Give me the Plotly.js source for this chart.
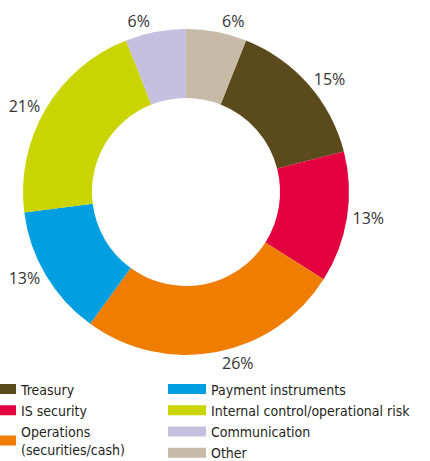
<!DOCTYPE html>
<html><head><meta charset="utf-8">
<script src="https://cdn.plot.ly/plotly-3.0.1.min.js"></script>
<style>html,body{margin:0;padding:0;background:#fff}#chart{width:430px;height:461px}</style>
</head><body><div id="chart"></div>
<script>
// Data (clockwise order, starting after "Other")
const categories = ["Treasury", "IS security", "Operations<br>(securities/cash)", "Payment instruments", "Internal control/operational risk", "Communication", "Other"];
const shares = [15, 13, 26, 13, 21, 6, 6];
const legendColumn = ["legend", "legend", "legend", "legend2", "legend2", "legend2", "legend2"];

// Palette
const palette = ["#5b4a1c", "#e3003f", "#ef7d00", "#009fe2", "#c9d400", "#c5c0df", "#c7bba7"];

const W = 430, H = 461;
const labelFont = {family: "Open Sans, Noto Sans, sans-serif", size: 16, color: "#333333"};
const legendFont = {family: "DejaVu Sans Condensed, Liberation Sans Narrow, sans-serif", size: 14, color: "#231f20"};

const traces = [{
  type: "pie",
  labels: categories,
  values: shares,
  sort: false,
  direction: "clockwise",
  rotation: shares[shares.length - 1] * 3.6,
  hole: 0.577,
  marker: {colors: palette, line: {width: 0}},
  textposition: "outside",
  texttemplate: "%{value}%",
  textfont: labelFont,
  showlegend: false,
  hoverinfo: "label+value",
  domain: {x: [23 / W, 349 / W], y: [(H - 355) / H, (H - 29) / H]}
}];

categories.forEach((c, i) => {
  traces.push({
    type: "scatter",
    mode: "lines",
    x: [null], y: [null],
    name: c,
    line: {color: palette[i], width: 11},
    legend: legendColumn[i],
    hoverinfo: "skip"
  });
});

const legendBase = {
  xanchor: "left", yanchor: "top",
  y: (H - 373.5) / H,
  itemwidth: 38,
  font: legendFont,
  bgcolor: "rgba(0,0,0,0)",
  borderwidth: 0,
  itemclick: false, itemdoubleclick: false,
  orientation: "v"
};

const layout = {
  width: W, height: H,
  margin: {l: 0, r: 0, t: 0, b: 0, autoexpand: false},
  paper_bgcolor: "#ffffff",
  plot_bgcolor: "rgba(0,0,0,0)",
  showlegend: true,
  xaxis: {visible: false},
  yaxis: {visible: false},
  legend: Object.assign({}, legendBase, {x: -27 / W}),
  legend2: Object.assign({}, legendBase, {x: 163 / W})
};

Plotly.newPlot("chart", traces, layout, {displayModeBar: false, staticPlot: true});
</script>
</body></html>
